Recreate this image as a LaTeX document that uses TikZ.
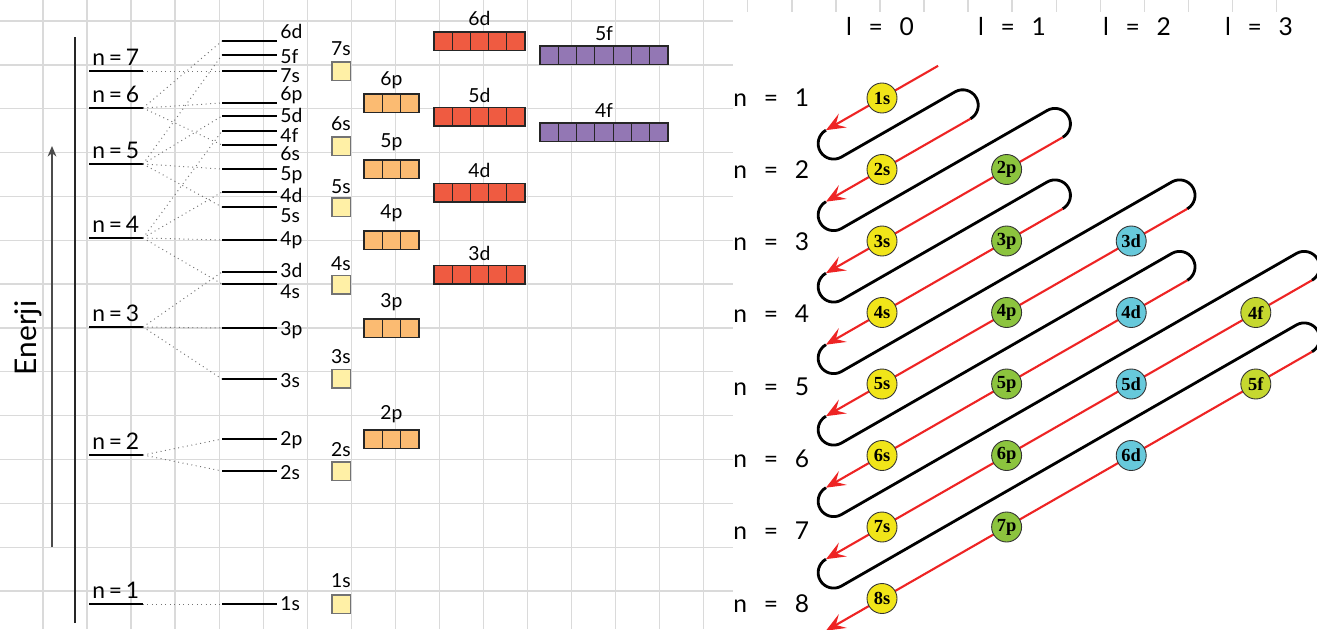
\documentclass[tikz,border=0pt]{standalone}
\usepackage{fontspec}
\setmainfont{Lato}
\newfontfamily\orbfont{Liberation Serif}
\usetikzlibrary{arrows.meta,shapes.geometric}
\definecolor{gridgray}{HTML}{DADADA}
\definecolor{sfill}{HTML}{FFF0A6}
\definecolor{pfill}{HTML}{FBBB72}
\definecolor{dfill}{HTML}{EF5B41}
\definecolor{ffill}{HTML}{9377B4}
\definecolor{scirc}{HTML}{F1E519}
\definecolor{pcirc}{HTML}{8CC43E}
\definecolor{dcirc}{HTML}{67C9DB}
\definecolor{fcirc}{HTML}{C6D82F}
\definecolor{arrred}{HTML}{EE2424}
\tikzset{
  gridline/.style={gridgray,line width=0.75pt},
  level/.style={line width=0.85pt},
  link/.style={dotted,black!55,line width=0.55pt},
  lab/.style={font=\fontsize{11}{12}\selectfont,inner sep=0pt},
  nlab/.style={font=\fontsize{13}{14}\selectfont,inner sep=0pt},
  rlab/.style={font=\fontsize{14}{16}\selectfont,inner sep=0pt},
  sbox/.style={fill=sfill,draw=black!55,line width=0.7pt},
  pbox/.style={fill=pfill,draw=black!85,line width=0.7pt},
  dbox/.style={fill=dfill,draw=black!85,line width=0.7pt},
  fbox/.style={fill=ffill,draw=black!85,line width=0.7pt},
  orb/.style={circle,draw=black!80,line width=0.5pt,minimum size=0.6cm,
    inner sep=0pt,font=\orbfont\bfseries\fontsize{10.5}{10.5}\selectfont},
  redline/.style={arrred,line width=1.2pt,-{Stealth[length=11pt,width=9pt,inset=4.5pt]}},
  blackline/.style={line width=1.6pt}
}
% point on diagonal #1 (n+l) at position #2 (along l)
\newcommand{\dg}[2]{({882+124.6*(#2)},{98+71.5*(#1)-71.5-71.5*(#2)})}
\newcommand{\eqsp}{\hspace{0.68em}=\hspace{0.68em}}

\begin{document}
\begin{tikzpicture}[x=0.02cm,y=-0.02cm]
  \useasboundingbox (0,0) rectangle (1317,629);
  % grid paper
  \foreach \i in {0,...,28}
    \draw[gridline] ({43+44.05*\i},0) -- ({43+44.05*\i},629);
  \foreach \j in {0,...,13}
    \draw[gridline] (0,{21+43.85*\j}) -- (1317,{21+43.85*\j});
  \fill[white] (733,12) rectangle (1317,629);

  % energy axis
  \coordinate (axtop) at (75,37); \coordinate (axbot) at (75,623);
  \draw[line width=0.85pt,black!85] (axbot) -- (axtop);
  \coordinate (entail) at (52,547); \coordinate (enhead) at (52,146);
  \draw[line width=0.85pt,black!70,-{Stealth[length=6pt,width=5pt]}] (entail) -- (enhead);
  \node[rotate=90,anchor=base,font=\fontsize{17}{18}\selectfont,inner sep=0pt] (enerji) at (36,338) {Enerji};

  % shells
  \foreach \n/\y in {1/604,2/455,3/327,4/238,5/164,6/108,7/71}{
    \draw[level] (89,\y) -- (143,\y) coordinate (n\n);
    \node[nlab,anchor=base west] (nlab\n) at (92,\y-6) {n\,=\,\n};
  }
  % subshells
  \foreach \nm/\y/\ly in {6d/41/38,5f/55/63,7s/71/82,6p/103/100,5d/116/122,4f/131/142,
      6s/145/160,5p/169/180,4d/192/202,5s/207/222,4p/240/245,3d/272/277,4s/284/298,
      3p/328/335,3s/379/387,2p/439/445,2s/471/479,1s/604/610}{
    \draw[level] (222,\y) coordinate (sub\nm) -- (277,\y);
    \node[lab,anchor=base west] (lab\nm) at (280,\ly) {\nm};
  }
  \foreach \a/\b in {7/7s,6/6d,6/6p,6/6s,5/5f,5/5d,5/5p,5/5s,4/4f,4/4d,4/4p,4/4s,
      3/3d,3/3p,3/3s,2/2p,2/2s,1/1s}
    \draw[link] (n\a) -- (sub\b);

  % orbital boxes
  \foreach \nm/\y/\ly in {7s/62/55,6s/137/130,5s/198/193,4s/275.5/270,3s/369.5/363,2s/462/456,1s/595/587}{
    \draw[sbox] (332,\y) rectangle +(18.5,18.5);
    \node[lab,anchor=base] (top\nm) at (341,\ly) {\nm};
  }
  \foreach \nm/\y/\ly in {6p/94/85,5p/160/147,4p/231/218,3p/319/307,2p/430/419}{
    \foreach \i in {0,1,2}
      \draw[pbox] ({364+18.33*\i},\y) rectangle +(18.33,18.5);
    \node[lab,anchor=base] (top\nm) at (391.5,\ly) {\nm};
  }
  \foreach \nm/\y/\ly in {6d/32/25,5d/107.5/102,4d/183.5/177,3d/265.5/260}{
    \foreach \i in {0,...,4}
      \draw[dbox] ({434+18.2*\i},\y) rectangle +(18.2,18.5);
    \node[lab,anchor=base] (top\nm) at (479.5,\ly) {\nm};
  }
  \foreach \nm/\y/\ly in {5f/46/40,4f/123/117}{
    \foreach \i in {0,...,6}
      \draw[fbox] ({540+18.29*\i},\y) rectangle +(18.29,18.5);
    \node[lab,anchor=base] (top\nm) at (604,\ly) {\nm};
  }

  % filling order
  \foreach \k/\tq in {1/0.586,2/1.326,3/1.326,4/2.326,5/2.326,6/3.326,7/3.326}
    \draw[blackline] \dg{\k}{-0.45} arc[start angle=240.15,end angle=60.15,radius=15.5]
      -- \dg{\k+0.5}{\tq} arc[start angle=240.15,end angle=420.15,radius=15.5];
  \foreach \k/\tu in {1/0.45,2/0.71,3/1.45,4/1.45,5/2.45,6/2.45,7/3.45,8/3.45}
    \draw[redline] \dg{\k}{\tu} -- \dg{\k}{-0.45};

  \foreach \n in {1,...,8}
    \node[orb,fill=scirc] (s\n) at (882,{98+71.5*(\n-1)}) {\n s};
  \foreach \n in {2,...,7}
    \node[orb,fill=pcirc] (p\n) at (1006.6,{98+71.5*(\n-1)}) {\n p};
  \foreach \n in {3,...,6}
    \node[orb,fill=dcirc] (d\n) at (1131.2,{98+71.5*(\n-1)}) {\n d};
  \foreach \n in {4,5}
    \node[orb,fill=fcirc] (f\n) at (1255.8,{98+71.5*(\n-1)}) {\n f};

  \foreach \n in {1,...,8}
    \node[rlab,anchor=base west] (rn\n) at (733,{106+72.3*(\n-1)}) {n\eqsp\n};
  \foreach \l/\x in {0/880,1/1012,2/1137,3/1259}
    \node[rlab,anchor=base] (l\l) at (\x,35) {l\eqsp\l};
\end{tikzpicture}
\end{document}
